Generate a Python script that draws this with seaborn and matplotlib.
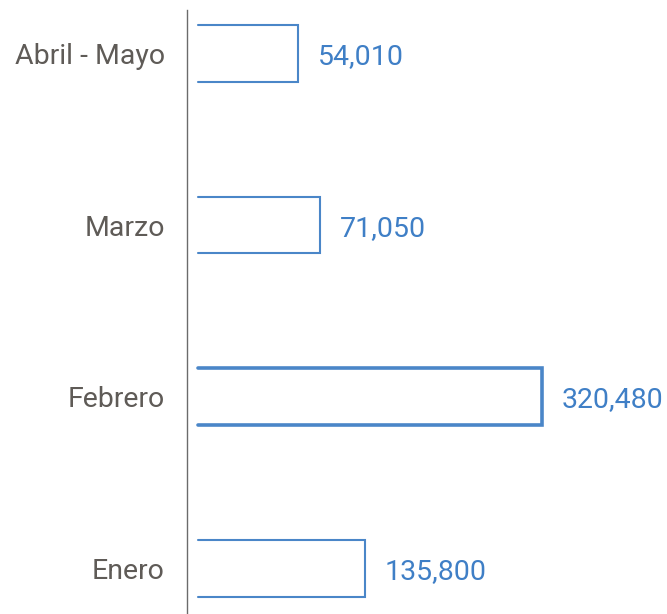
import matplotlib
matplotlib.use("Agg")
import pandas as pd
import matplotlib.pyplot as plt
import seaborn as sns

# data
months = ["Abril - Mayo", "Marzo", "Febrero", "Enero"]
values = [54010, 71050, 320480, 135800]
# drawn bar lengths (the picture is not to scale, so lengths are read separately)
bar_length = [100, 122, 344, 167]

BLUE = "#4a86c8"
LABEL_BLUE = "#3f7fc6"
GREY = "#5f5b57"


def main():
    sns.set_theme(style="white")
    plt.rcParams["font.family"] = ["Roboto", "DejaVu Sans"]

    df = pd.DataFrame({"mes": months, "valor": values, "largo": bar_length})

    fig = plt.figure(figsize=(6.67, 6.14), dpi=100)
    ax = fig.add_axes([187 / 667, 0, 480 / 667, 604 / 614])

    sns.barplot(data=df, x="largo", y="mes", order=months, orient="h",
                color="white", edgecolor="none", width=0.33, ax=ax)

    # open-sided outline: top, right and bottom edges only
    widths = [1.5, 1.5, 2.6, 1.5]
    for patch, lw in zip(ax.patches, widths):
        x0, y0 = patch.get_x(), patch.get_y()
        w, h = patch.get_width(), patch.get_height()
        ax.plot([x0, x0 + w, x0 + w, x0], [y0, y0, y0 + h, y0 + h],
                color=BLUE, lw=lw, solid_joinstyle="miter", clip_on=False)

    texts = ax.bar_label(ax.containers[0], labels=[f"{v:,}" for v in values],
                         padding=14, color=LABEL_BLUE, fontsize=20.5)
    for t in texts:
        t.set_verticalalignment("center_baseline")

    ax.set_xlim(-11, 469)
    ax.set_ylim(3.265, -0.253)
    ax.set_xlabel("")
    ax.set_ylabel("")
    ax.set_xticks([])
    ax.tick_params(axis="y", length=0, pad=16, labelsize=20.5, labelcolor=GREY)

    for side in ["top", "right", "bottom"]:
        ax.spines[side].set_visible(False)
    ax.spines["left"].set_color("#6b6b6b")
    ax.spines["left"].set_linewidth(1.0)

    fig.savefig("out.png", dpi=100)
    plt.close(fig)


if __name__ == "__main__":
    main()
